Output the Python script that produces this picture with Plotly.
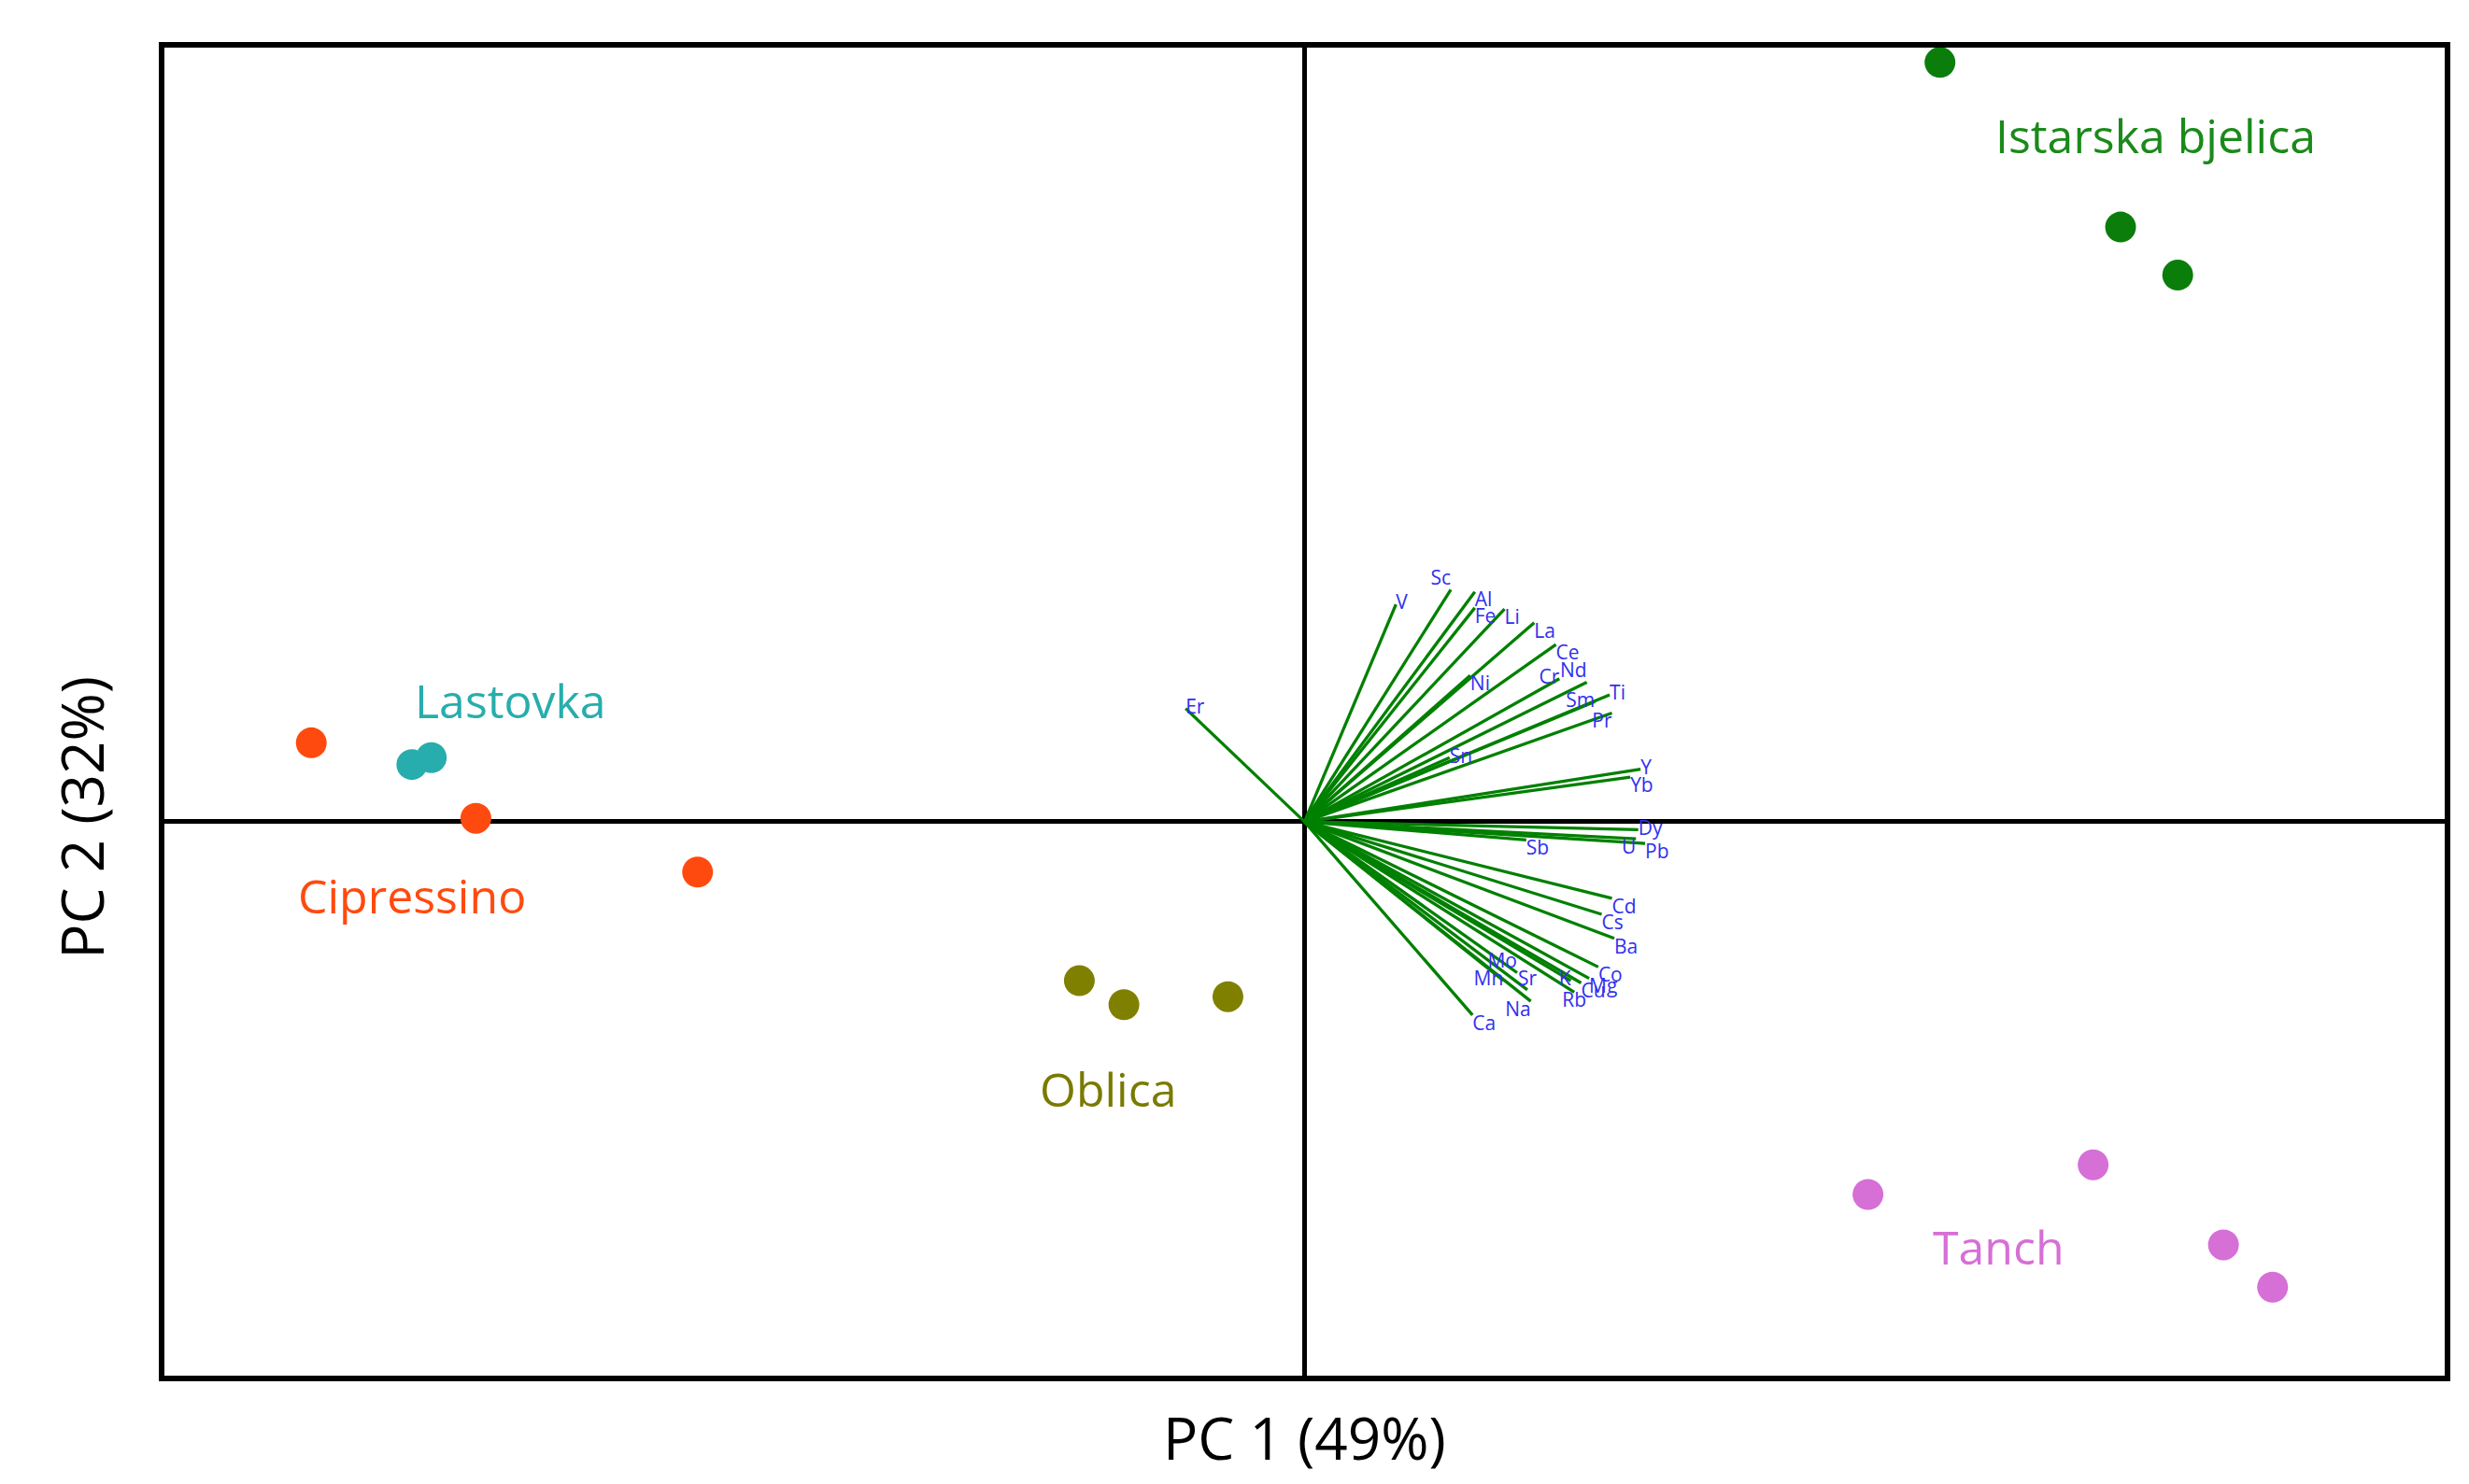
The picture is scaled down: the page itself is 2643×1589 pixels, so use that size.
import plotly.graph_objects as go

# ---- sample scores (PC1, PC2) ----
groups = ["Istarska bjelica", "Tanch", "Oblica", "Cipressino", "Lastovka"]
istarska_pc1 = [5.56, 7.14, 7.64]
istarska_pc2 = [6.64, 5.20, 4.78]
tanch_pc1 = [4.93, 6.90, 8.04, 8.47]
tanch_pc2 = [-3.26, -3.00, -3.70, -4.07]
oblica_pc1 = [-1.97, -1.58, -0.67]
oblica_pc2 = [-1.39, -1.60, -1.53]
cipressino_pc1 = [-8.69, -7.25, -5.31]
cipressino_pc2 = [0.69, 0.03, -0.44]
lastovka_pc1 = [-7.81, -7.64]
lastovka_pc2 = [0.50, 0.56]

# group label anchor points
group_label_pc1 = [7.45, 6.07, -1.72, -7.81, -6.95]
group_label_pc2 = [6.00, -3.72, -2.34, -0.65, 1.06]

# ---- variable loadings (scaled) ----
elements = ["Er", "V", "Sc", "Al", "Fe", "Li", "La", "Ce", "Ni", "Cr", "Nd", "Sm",
            "Ti", "Pr", "Sn", "Y", "Yb", "Dy", "Sb", "U", "Pb", "Cd", "Cs", "Ba",
            "Co", "Mg", "Cu", "K", "Rb", "Sr", "Mo", "Mn", "Na", "Ca"]
load_pc1 = [-1.04, 0.80, 1.28, 1.49, 1.49, 1.75, 2.01, 2.20, 1.45, 2.23, 2.47, 2.54,
            2.67, 2.69, 1.27, 2.94, 2.85, 2.92, 1.94, 2.90, 2.98, 2.69, 2.60, 2.71,
            2.57, 2.49, 2.42, 2.33, 2.36, 1.95, 1.86, 1.74, 1.98, 1.47]
load_pc2 = [0.99, 1.90, 2.03, 2.01, 1.87, 1.86, 1.74, 1.55, 1.28, 1.25, 1.22, 1.05,
            1.11, 0.95, 0.56, 0.46, 0.39, -0.07, -0.16, -0.15, -0.19, -0.67, -0.81, -1.02,
            -1.27, -1.37, -1.41, -1.39, -1.49, -1.47, -1.32, -1.39, -1.57, -1.69]

# label placement (style)
label_pos = ["middle right", "middle right", "top left", "bottom right", "bottom right",
             "bottom right", "bottom right", "bottom right", "bottom right", "middle left",
             "top left", "middle left", "middle right", "bottom left", "middle right",
             "middle right", "bottom right", "middle right", "bottom right", "bottom left",
             "bottom right", "bottom right", "bottom right", "bottom right", "bottom right",
             "bottom right", "bottom right", "middle left", "bottom center", "top center",
             "top left", "middle left", "bottom left", "bottom right"]

colors = {
    "Istarska bjelica": "#0B7D0B",
    "Tanch": "#D66FD6",
    "Oblica": "#808000",
    "Cipressino": "#FF4A0F",
    "Lastovka": "#27ADAD",
}
text_colors = {
    "Istarska bjelica": "#1A8A1A",
    "Tanch": "#D66FD6",
    "Oblica": "#7A7A00",
    "Cipressino": "#FF4A0F",
    "Lastovka": "#27ADAD",
}

fig = go.Figure()

# loading lines
lx, ly = [], []
for x, y in zip(load_pc1, load_pc2):
    lx += [0, x, None]
    ly += [0, y, None]
fig.add_trace(go.Scatter(x=lx, y=ly, mode="lines",
                         line=dict(color="#008000", width=3.3),
                         hoverinfo="skip", showlegend=False))
fig.add_trace(go.Scatter(x=load_pc1, y=load_pc2, mode="text", text=elements,
                         textposition=label_pos,
                         textfont=dict(family="Open Sans", size=21, color="#3030EE"),
                         showlegend=False))

scores = [
    (istarska_pc1, istarska_pc2),
    (tanch_pc1, tanch_pc2),
    (oblica_pc1, oblica_pc2),
    (cipressino_pc1, cipressino_pc2),
    (lastovka_pc1, lastovka_pc2),
]
for g, (xs, ys) in zip(groups, scores):
    fig.add_trace(go.Scatter(x=xs, y=ys, mode="markers", name=g,
                             marker=dict(size=33, color=colors[g]),
                             showlegend=False))

for g, x, y in zip(groups, group_label_pc1, group_label_pc2):
    fig.add_annotation(x=x, y=y, text=g, showarrow=False,
                       font=dict(family="Open Sans", size=50, color=text_colors[g]))

axis_common = dict(showgrid=False, showticklabels=False, ticks="",
                   zeroline=True, zerolinecolor="black", zerolinewidth=5,
                   showline=True, linecolor="black", linewidth=5.5, mirror=True)
fig.update_xaxes(range=[-9.975, 9.976], **axis_common)
fig.update_yaxes(range=[-4.844, 6.769], **axis_common)

fig.add_annotation(xref="paper", yref="paper", x=0.5, y=0, yshift=-66,
                   text="PC 1 (49%)", showarrow=False, yanchor="middle",
                   font=dict(family="Open Sans", size=62, color="black"))
fig.add_annotation(xref="paper", yref="paper", x=0, y=0.42, xshift=-89,
                   text="PC 2 (32%)", showarrow=False, textangle=-90, xanchor="center",
                   font=dict(family="Open Sans", size=62, color="black"))

fig.update_layout(width=2627, height=1573,
                  margin=dict(l=168, r=16, t=43, b=108),
                  plot_bgcolor="white", paper_bgcolor="white")

fig.write_html("out.html")
